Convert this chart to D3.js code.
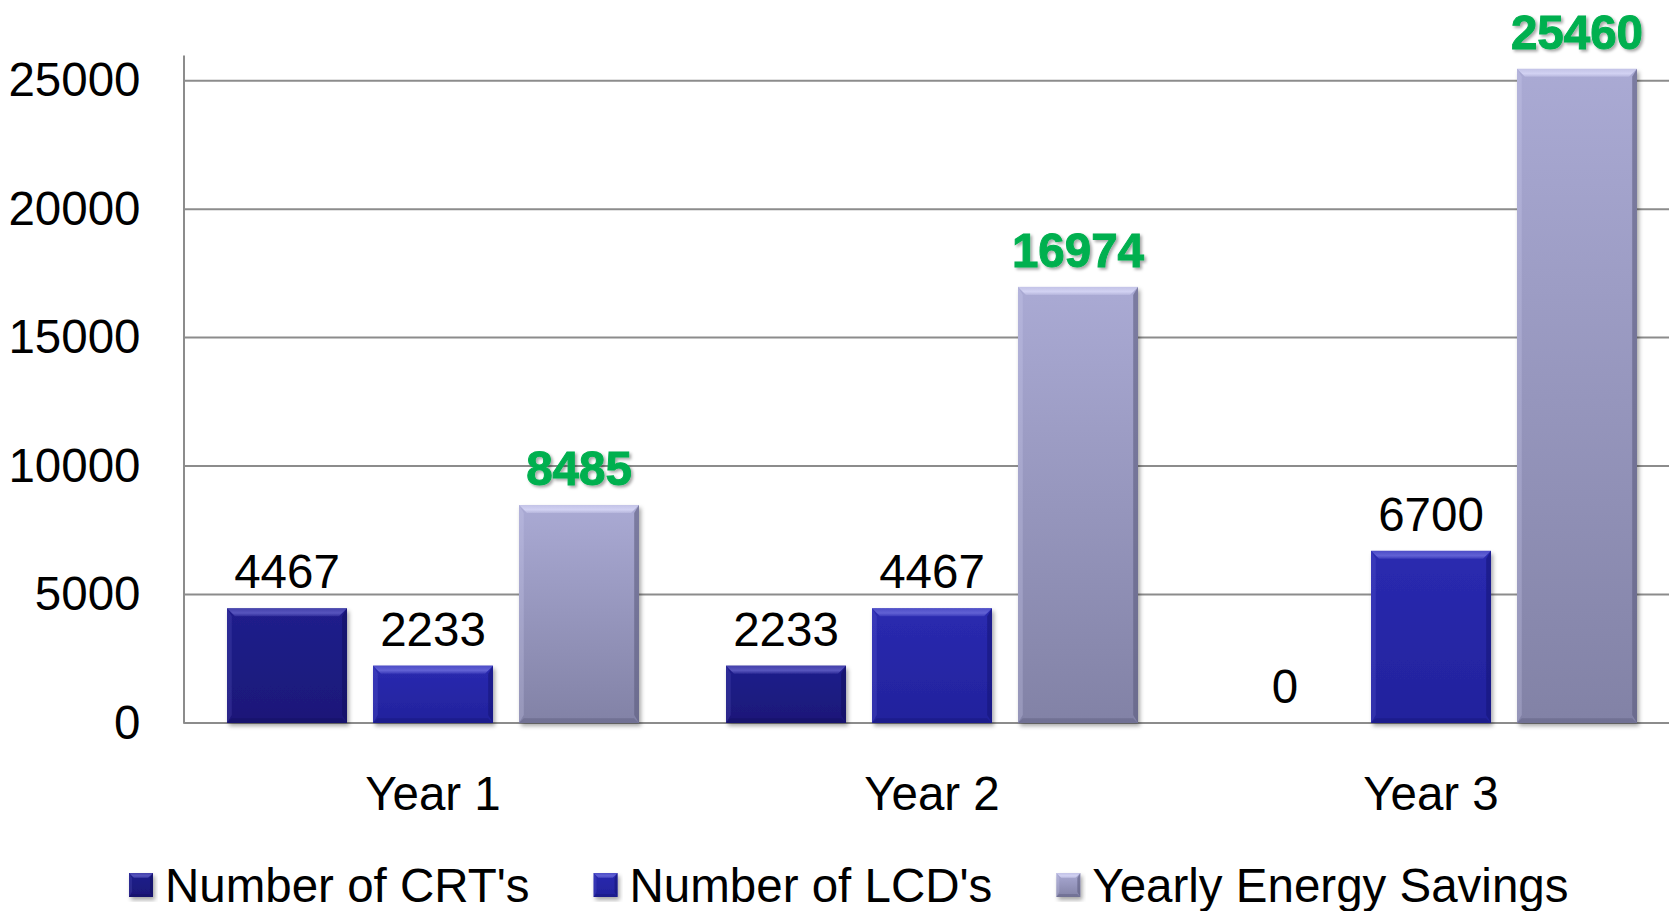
<!DOCTYPE html>
<html>
<head>
<meta charset="utf-8">
<script src="https://cdn.jsdelivr.net/npm/d3@7"></script>
<style>
  html, body { margin: 0; padding: 0; background: #fff; }
  svg { display: block; font-family: "Liberation Sans", Arial, sans-serif; }
</style>
</head>
<body>
<div id="chart"></div>
<script>
const years = ['Year 1', 'Year 2', 'Year 3'];
const seriesNames = ["Number of CRT's", "Number of LCD's", 'Yearly Energy Savings'];
const crtValues = [4467, 2233, 0];
const lcdValues = [2233, 4467, 6700];
const savingsValues = [8485, 16974, 25460];
const yTicks = [0, 5000, 10000, 15000, 20000, 25000];

const width = 1669;
const height = 911;
const margin = { left: 183.5, top: 55, bottom: 723 };

// colour sets per series: top / bottom of gradient, bevel light, bevel dark
const palette = [
  { top: '#201e8c', bottom: '#1a1878', light: '#5a58c0', dark: '#121060' },
  { top: '#2a2ab0', bottom: '#22229c', light: '#6464d6', dark: '#16167a' },
  { top: '#aaaad4', bottom: '#8282a6', light: '#d4d4f4', dark: '#5e5e7e' },
];

const values = [crtValues, lcdValues, savingsValues];
const rows = years.map((year, i) => ({
  year,
  items: seriesNames.map((s, j) => ({ series: j, value: values[j][i] })),
}));

const svg = d3.select('#chart').append('svg')
  .attr('width', width)
  .attr('height', height);

const defs = svg.append('defs');

palette.forEach((p, i) => {
  const g = defs.append('linearGradient')
    .attr('id', `grad-${i}`)
    .attr('x1', 0).attr('y1', 0).attr('x2', 0).attr('y2', 1);
  g.append('stop').attr('offset', '0%').attr('stop-color', p.top);
  g.append('stop').attr('offset', '100%').attr('stop-color', p.bottom);

  const tb = defs.append('linearGradient')
    .attr('id', `bevel-${i}`)
    .attr('x1', 0).attr('y1', 0).attr('x2', 0).attr('y2', 1);
  tb.append('stop').attr('offset', '0%').attr('stop-color', p.light).attr('stop-opacity', 0.6);
  tb.append('stop').attr('offset', '60%').attr('stop-color', p.light).attr('stop-opacity', 0.95);
  tb.append('stop').attr('offset', '100%').attr('stop-color', p.light).attr('stop-opacity', 0.3);
});

defs.append('filter').attr('id', 'bar-shadow')
  .attr('x', '-10%').attr('y', '-10%').attr('width', '130%').attr('height', '130%')
  .append('feDropShadow')
  .attr('dx', 2).attr('dy', 3).attr('stdDeviation', 2)
  .attr('flood-color', '#000').attr('flood-opacity', 0.35);

defs.append('filter').attr('id', 'text-shadow')
  .attr('x', '-10%').attr('y', '-20%').attr('width', '130%').attr('height', '150%')
  .append('feDropShadow')
  .attr('dx', 2).attr('dy', 2).attr('stdDeviation', 1.5)
  .attr('flood-color', '#000').attr('flood-opacity', 0.35);

const x0 = d3.scaleBand()
  .domain(years)
  .range([margin.left, margin.left + 3 * 499]);

const x1 = d3.scaleBand()
  .domain(d3.range(seriesNames.length))
  .range([0, x0.bandwidth()])
  .paddingInner(0.178)
  .paddingOuter(0.298);

const y = d3.scaleLinear()
  .domain([0, 26000])
  .range([margin.bottom, margin.top]);

// gridlines
svg.append('g')
  .selectAll('line')
  .data(yTicks.slice(1))
  .join('line')
  .attr('x1', margin.left)
  .attr('x2', width)
  .attr('y1', d => y(d))
  .attr('y2', d => y(d))
  .attr('stroke', '#8c8c8c')
  .attr('stroke-width', 2);

// y axis
const yAxis = svg.append('g')
  .attr('transform', `translate(${margin.left},0)`)
  .call(d3.axisLeft(y).tickValues(yTicks).tickFormat(d3.format('d')).tickSize(0).tickPadding(43));
yAxis.select('.domain').attr('stroke', '#8c8c8c').attr('stroke-width', 2);
yAxis.selectAll('text')
  .attr('font-size', 47.5)
  .attr('font-family', '"Liberation Sans", Arial, sans-serif')
  .attr('fill', '#000');

// x axis
const xAxis = svg.append('g')
  .attr('transform', `translate(0,${margin.bottom})`)
  .call(d3.axisBottom(x0).tickSize(0).tickPadding(53));
xAxis.select('.domain')
  .attr('d', `M${margin.left},0H${width}`)
  .attr('stroke', '#8c8c8c').attr('stroke-width', 2);
xAxis.selectAll('text')
  .attr('font-size', 47.5)
  .attr('font-family', '"Liberation Sans", Arial, sans-serif')
  .attr('fill', '#000');

function drawBevelBar(g, x, yTop, w, h, i, b) {
  if (h <= 0) return;
  const p = palette[i];
  const bv = Math.min(b, h / 2, w / 2);
  g.append('rect')
    .attr('x', x).attr('y', yTop).attr('width', w).attr('height', h)
    .attr('fill', `url(#grad-${i})`)
    .attr('filter', 'url(#bar-shadow)');
  const x2 = x + w;
  const y2 = yTop + h;
  // top bevel
  g.append('path')
    .attr('d', `M${x},${yTop}L${x2},${yTop}L${x2 - bv},${yTop + bv}L${x + bv},${yTop + bv}Z`)
    .attr('fill', `url(#bevel-${i})`);
  // left bevel
  g.append('path')
    .attr('d', `M${x},${yTop}L${x + bv * 0.6},${yTop + bv}L${x + bv * 0.6},${y2 - bv}L${x},${y2}Z`)
    .attr('fill', p.light).attr('opacity', 0.25);
  // right bevel
  g.append('path')
    .attr('d', `M${x2},${yTop}L${x2 - bv * 0.6},${yTop + bv}L${x2 - bv * 0.6},${y2 - bv}L${x2},${y2}Z`)
    .attr('fill', p.dark).attr('opacity', 0.6);
  // bottom bevel
  g.append('path')
    .attr('d', `M${x},${y2}L${x2},${y2}L${x2 - bv * 0.6},${y2 - bv * 0.6}L${x + bv * 0.6},${y2 - bv * 0.6}Z`)
    .attr('fill', p.dark).attr('opacity', 0.45);
}

const groups = svg.append('g')
  .selectAll('g')
  .data(rows)
  .join('g')
  .attr('transform', d => `translate(${x0(d.year)},0)`);

groups.each(function (row) {
  const g = d3.select(this);
  row.items.forEach(item => {
    const bx = x1(item.series);
    const bw = x1.bandwidth();
    const top = y(item.value);
    drawBevelBar(g, bx, top, bw, y(0) - top, item.series, 8);

    const label = g.append('text')
      .attr('x', bx + bw / 2)
      .attr('y', top - 20)
      .attr('text-anchor', 'middle')
      .attr('font-size', 47.5)
      .text(item.value);
    if (item.series === 2) {
      label.attr('fill', '#00b050')
        .attr('font-weight', 'bold')
        .attr('stroke', '#00b050')
        .attr('stroke-width', 1)
        .attr('filter', 'url(#text-shadow)');
    } else {
      label.attr('fill', '#000');
    }
  });
});

// legend
const legend = svg.append('g').attr('transform', 'translate(129,0)');
let lx = 0;
seriesNames.forEach((name, i) => {
  const item = legend.append('g').attr('transform', `translate(${lx},0)`);
  drawBevelBar(item, 0, 873, 24, 24, i, 5);
  const t = item.append('text')
    .attr('x', 36)
    .attr('y', 902)
    .attr('font-size', 47.5)
    .attr('fill', '#000')
    .text(name);
  lx += 36 + t.node().getComputedTextLength() + 64;
});
</script>
</body>
</html>
